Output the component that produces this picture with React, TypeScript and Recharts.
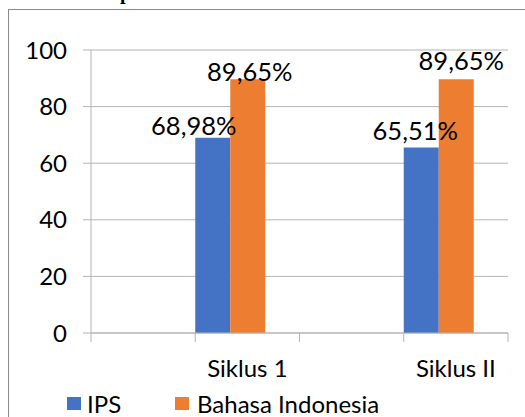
import React from "react";
import { BarChart, Bar, XAxis, YAxis, CartesianGrid, LabelList } from "recharts";

const categories = ["", "Siklus 1", "", "Siklus II"];
const ipsValues: (number | null)[] = [null, 68.98, null, 65.51];
const bahasaValues: (number | null)[] = [null, 89.65, null, 89.65];
const yTicks = [0, 20, 40, 60, 80, 100];
const seriesNames = ["IPS", "Bahasa Indonesia"];

const data = categories.map((c, i) => ({
  name: c,
  ips: ipsValues[i],
  bahasa: bahasaValues[i],
  pad: null as number | null,
}));

const W = 525;
const H = 417;
const PLOT_LEFT = 91;
const PLOT_RIGHT = 508;
const AXIS_Y = 333;
const BAND = (PLOT_RIGHT - PLOT_LEFT) / categories.length;
const FONT = "Lato, 'Open Sans', sans-serif";
const GRID = "#b4b4b4";
const BLUE = "#4472C4";
const ORANGE = "#ED7D31";
const TICK_FS = 24;
const LABEL_FS = 25.5;

const ipsShift = [
  { dx: 0, dy: 0 },
  { dx: -19, dy: -3 },
  { dx: 0, dy: 0 },
  { dx: -6, dy: -8 },
];
const bahasaShift = [
  { dx: 0, dy: 0 },
  { dx: 2, dy: 2 },
  { dx: 0, dy: 0 },
  { dx: 5, dy: -9 },
];

const fmt = (v: number) => v.toFixed(2).replace(".", ",") + "%";

const makeLabel = (shift: { dx: number; dy: number }[]) => (props: any) => {
  const { x, y, width, value } = props;
  if (value == null) return null;
  const cat = Math.max(0, Math.min(categories.length - 1, Math.floor((x + 1 - PLOT_LEFT) / BAND)));
  const s = shift[cat] || { dx: 0, dy: 0 };
  return (
    <text
      x={x + width / 2 + s.dx}
      y={y + s.dy}
      textAnchor="middle"
      fontFamily={FONT}
      fontSize={LABEL_FS}
      fill="#000"
    >
      {fmt(value)}
    </text>
  );
};

const XTick = (props: any) => {
  const { x, y, payload, index } = props;
  const left = x - BAND / 2;
  return (
    <g>
      <line x1={left} x2={left} y1={y} y2={y + 9} stroke={GRID} strokeWidth={1} />
      {index === categories.length - 1 && (
        <line x1={x + BAND / 2} x2={x + BAND / 2} y1={y} y2={y + 9} stroke={GRID} strokeWidth={1} />
      )}
      {payload.value !== "" && (
        <text x={x} y={y + 44} textAnchor="middle" fontFamily={FONT} fontSize={TICK_FS} fill="#000">
          {payload.value}
        </text>
      )}
    </g>
  );
};

export default function App() {
  return (
    <div
      style={{
        position: "absolute",
        left: 0,
        top: 0,
        width: W,
        height: H,
        overflow: "hidden",
        background: "#fff",
      }}
    >
      <div
        style={{
          position: "absolute",
          left: 120,
          top: -18,
          fontFamily: "'Liberation Serif', serif",
          fontWeight: "bold",
          fontSize: 20,
          lineHeight: "20px",
        }}
      >
        p
      </div>
      <div
        style={{
          position: "absolute",
          left: 8,
          top: 9,
          width: 600,
          height: 500,
          border: "1px solid #8a8a8a",
        }}
      />
      <div style={{ position: "absolute", left: 0, top: 0 }}>
        <BarChart
          width={W}
          height={H}
          data={data}
          margin={{ top: 50, right: W - PLOT_RIGHT, left: 0, bottom: 0 }}
          barCategoryGap={0}
          barGap={0}
        >
          <CartesianGrid vertical={false} stroke={GRID} />
          <YAxis
            width={PLOT_LEFT}
            domain={[0, 100]}
            ticks={yTicks}
            tickSize={8}
            tickMargin={16}
            axisLine={{ stroke: GRID }}
            tickLine={{ stroke: GRID }}
            tick={{ fill: "#000", fontSize: TICK_FS, fontFamily: FONT }}
          />
          <XAxis
            dataKey="name"
            height={H - AXIS_Y - 0}
            interval={0}
            tickSize={0}
            tickMargin={0}
            tickLine={false}
            axisLine={{ stroke: GRID }}
            tick={<XTick />}
          />
          <Bar dataKey="ips" fill={BLUE} isAnimationActive={false}>
            <LabelList dataKey="ips" content={makeLabel(ipsShift)} />
          </Bar>
          <Bar dataKey="bahasa" fill={ORANGE} isAnimationActive={false}>
            <LabelList dataKey="bahasa" content={makeLabel(bahasaShift)} />
          </Bar>
          <Bar dataKey="pad" fill="none" legendType="none" isAnimationActive={false} />
        </BarChart>
      </div>
      <svg
        width={W}
        height={27}
        style={{ position: "absolute", left: 0, top: 390 }}
      >
        <rect x={67} y={7} width={14} height={13} fill={BLUE} />
        <text x={87} y={23} fontFamily={FONT} fontSize={TICK_FS} fill="#000">
          {seriesNames[0]}
        </text>
        <rect x={175} y={7} width={14} height={13} fill={ORANGE} />
        <text x={197} y={23} fontFamily={FONT} fontSize={TICK_FS} fill="#000">
          {seriesNames[1]}
        </text>
      </svg>
    </div>
  );
}
